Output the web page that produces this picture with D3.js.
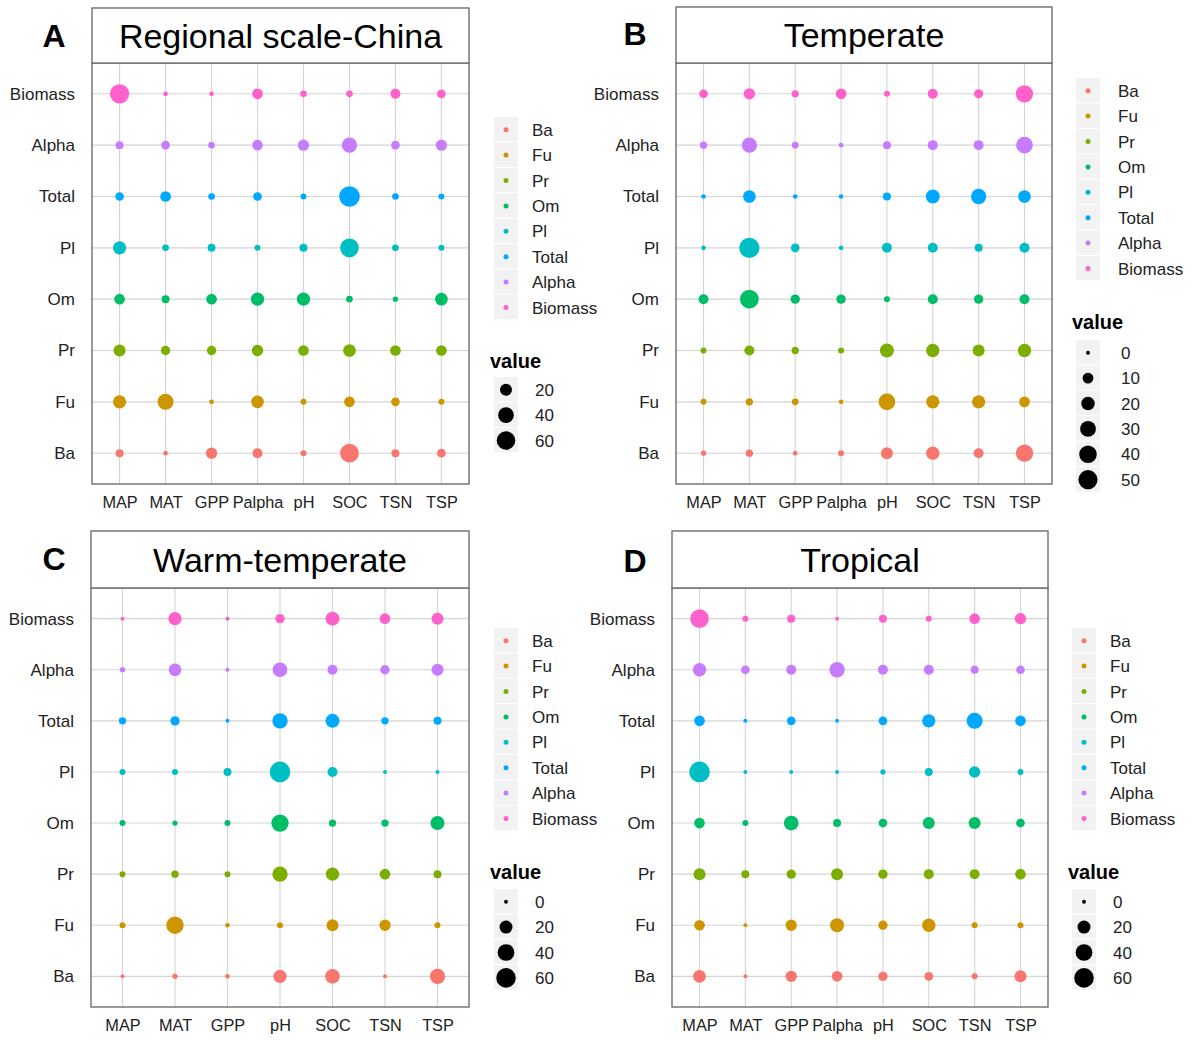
<!DOCTYPE html>
<html>
<head>
<meta charset="utf-8">
<script src="https://cdn.jsdelivr.net/npm/d3@7"></script>
<style>
  body { margin: 0; background: #fff; }
  text { font-family: "Liberation Sans", Arial, sans-serif; }
</style>
</head>
<body>
<div id="chart"></div>
<script>
// rows top -> bottom, legend order is the reverse
const rows = ['Biomass', 'Alpha', 'Total', 'Pl', 'Om', 'Pr', 'Fu', 'Ba']
const legendOrder = ['Ba', 'Fu', 'Pr', 'Om', 'Pl', 'Total', 'Alpha', 'Biomass']
const hue = ['#F8766D', '#CD9600', '#7CAE00', '#00BE67', '#00BFC4', '#00A9FF', '#C77CFF', '#FF61CC']

const cols8 = ['MAP', 'MAT', 'GPP', 'Palpha', 'pH', 'SOC', 'TSN', 'TSP']
const cols7 = ['MAP', 'MAT', 'GPP', 'pH', 'SOC', 'TSN', 'TSP']

// values, one array per row (Biomass ... Ba)
const valuesA = [
  [66, 0.7, 0.7, 14.5, 3.3, 3.3, 12, 8],
  [6, 8, 3.3, 14.5, 17, 38, 8, 17],
  [8, 14.5, 3.3, 8, 2.2, 77, 3.3, 2.2],
  [26, 3.3, 6, 2.2, 6, 61, 3.3, 2.2],
  [14.5, 6, 14.5, 26, 26, 3.3, 1.3, 23],
  [20, 10, 10, 17, 14.5, 23, 14.5, 14.5],
  [26, 42, 0.7, 23, 2.2, 14.5, 8, 2.2],
  [6, 0.7, 17, 12, 2.2, 61, 6, 8]
]
const valuesB = [
  [4.7, 11.7, 2.4, 9.7, 0.9, 7.8, 6.2, 38.7],
  [2.4, 27.9, 1.6, 0.1, 3.5, 7.8, 7.8, 34.9],
  [0.1, 16.4, 0.1, 0.1, 3.5, 21.8, 27.9, 16.4],
  [0.1, 58, 4.7, 0.1, 7.8, 7.8, 3.5, 7.8],
  [7.8, 46.9, 6.2, 6.2, 0.9, 7.8, 6.2, 7.8],
  [0.9, 7.8, 2.4, 0.9, 21.8, 18.9, 13.9, 18.9],
  [0.9, 2.4, 1.6, 0.1, 34.9, 18.9, 18.9, 9.7],
  [0.4, 2.4, 0.1, 0.9, 13.9, 18.9, 7.8, 38.7]
]
const valuesC = [
  [0, 21.6, 0, 7.1, 24.8, 11, 15.9],
  [0.4, 18.6, 0, 28.2, 8.9, 7.1, 15.9],
  [2.7, 7.1, 0, 31.8, 24.8, 2.7, 4],
  [1, 1, 4, 68.9, 8.9, 0, 0],
  [1, 0.4, 1, 44.1, 2.7, 2.7, 24.8],
  [1, 2.7, 1, 31.8, 21.6, 11, 4],
  [1, 44.1, 0.1, 1, 15.9, 13.3, 1],
  [0, 0.4, 0.1, 21.6, 28.2, 0, 31.8]
]
const valuesD = [
  [53.4, 1, 4, 0, 4, 1, 11, 13.3],
  [21.6, 5.4, 8.9, 31.8, 8.9, 8.9, 4, 5.4],
  [11, 0, 5.4, 0, 5.4, 21.6, 35.7, 11],
  [68.9, 0, 0, 0, 0.4, 4, 13.3, 1],
  [11, 1, 28.2, 4, 5.4, 15.9, 15.9, 5.4],
  [15.9, 4, 7.1, 15.9, 7.1, 8.9, 8.9, 11],
  [11, 0, 13.3, 24.8, 7.1, 21.6, 1, 1],
  [18.6, 0, 13.3, 11, 7.1, 5.4, 1, 15.9]
]

const breaksA = [20, 40, 60]
const breaksB = [0, 10, 20, 30, 40, 50]
const breaksC = [0, 20, 40, 60]
const breaksD = [0, 20, 40, 60]

const W = 1192, H = 1040
const svg = d3.select('#chart').append('svg').attr('width', W).attr('height', H)
svg.append('rect').attr('width', W).attr('height', H).attr('fill', '#fff')

const color = d3.scaleOrdinal().domain(legendOrder).range(hue)
const ink = '#222'
const frame = '#6e6e6e'
const fs = 17

const panels = [
  { tag: 'A', title: 'Regional scale-China', cols: cols8, values: valuesA, breaks: breaksA,
    left: 92, right: 469, stripTop: 8, plotTop: 63, plotBottom: 484, tagX: 54, tagY: 35,
    size: [[0, 80], [1.5, 10.5]], legX: 494, legLabX: 532, keyTop: 117, valY: 361, sizeTop: 377 },
  { tag: 'B', title: 'Temperate', cols: cols8, values: valuesB, breaks: breaksB,
    left: 676, right: 1052, stripTop: 7, plotTop: 63, plotBottom: 484, tagX: 635, tagY: 33,
    size: [[0, 60], [2, 10.3]], legX: 1076, legLabX: 1118, keyTop: 78, valY: 322, sizeTop: 340 },
  { tag: 'C', title: 'Warm-temperate', cols: cols7, values: valuesC, breaks: breaksC,
    left: 91, right: 469, stripTop: 531, plotTop: 588, plotBottom: 1007, tagX: 54, tagY: 558,
    size: [[0, 70], [2, 10.4]], legX: 494, legLabX: 532, keyTop: 628, valY: 872, sizeTop: 889 },
  { tag: 'D', title: 'Tropical', cols: cols8, values: valuesD, breaks: breaksD,
    left: 672, right: 1048, stripTop: 531, plotTop: 588, plotBottom: 1007, tagX: 635, tagY: 560,
    size: [[0, 70], [2, 10.4]], legX: 1072, legLabX: 1110, keyTop: 628, valY: 872, sizeTop: 889 }
]

panels.forEach(drawPanel)

function drawPanel (p) {
  let g = svg.append('g')
  let x = d3.scalePoint().domain(p.cols).range([p.left, p.right]).padding(0.6)
  let y = d3.scalePoint().domain(rows).range([p.plotTop, p.plotBottom]).padding(0.6)
  let r = d3.scaleSqrt().domain(p.size[0]).range(p.size[1])

  // grid
  g.selectAll('line.vx').data(p.cols).enter().append('line')
    .attr('x1', d => x(d)).attr('x2', d => x(d))
    .attr('y1', p.plotTop).attr('y2', p.plotBottom)
    .attr('stroke', '#d4d4d4').attr('stroke-width', 1.1)
  g.selectAll('line.hy').data(rows).enter().append('line')
    .attr('y1', d => y(d)).attr('y2', d => y(d))
    .attr('x1', p.left).attr('x2', p.right)
    .attr('stroke', '#d4d4d4').attr('stroke-width', 1.1)

  // dots
  let cells = []
  p.values.forEach((row, i) => row.forEach((v, j) => cells.push({ row: rows[i], col: p.cols[j], v })))
  g.selectAll('circle.dot').data(cells).enter().append('circle')
    .attr('cx', d => x(d.col)).attr('cy', d => y(d.row))
    .attr('r', d => r(d.v)).attr('fill', d => color(d.row))

  // frame + strip
  g.append('rect').attr('x', p.left).attr('y', p.plotTop)
    .attr('width', p.right - p.left).attr('height', p.plotBottom - p.plotTop)
    .attr('fill', 'none').attr('stroke', frame).attr('stroke-width', 1.4)
  g.append('rect').attr('x', p.left).attr('y', p.stripTop)
    .attr('width', p.right - p.left).attr('height', p.plotTop - p.stripTop)
    .attr('fill', '#fff').attr('stroke', frame).attr('stroke-width', 1.4)
  g.append('text').text(p.title)
    .attr('x', (p.left + p.right) / 2).attr('y', (p.stripTop + p.plotTop) / 2 + 12)
    .attr('text-anchor', 'middle').attr('font-size', 34).attr('fill', '#000')
  g.append('text').text(p.tag)
    .attr('x', p.tagX).attr('y', p.tagY + 11.5)
    .attr('text-anchor', 'middle').attr('font-size', 32).attr('font-weight', 'bold').attr('fill', '#000')

  // axes
  let ax = g.append('g').attr('transform', `translate(0,${p.plotBottom})`)
    .call(d3.axisBottom(x).tickSize(0).tickPadding(12))
  let ay = g.append('g').attr('transform', `translate(${p.left},0)`)
    .call(d3.axisLeft(y).tickSize(0).tickPadding(17))
  ;[ax, ay].forEach(a => {
    a.select('.domain').remove()
    a.selectAll('text').attr('font-size', a === ax ? 16.3 : fs).attr('fill', ink)
      .style('font-family', '"Liberation Sans", Arial, sans-serif')
  })

  // colour legend
  let step = 25.4
  let lg = g.append('g')
  lg.selectAll('rect').data(legendOrder).enter().append('rect')
    .attr('x', p.legX).attr('y', (d, i) => p.keyTop + i * step)
    .attr('width', 24).attr('height', step - 1).attr('fill', '#f2f2f2')
  lg.selectAll('circle').data(legendOrder).enter().append('circle')
    .attr('cx', p.legX + 12).attr('cy', (d, i) => p.keyTop + i * step + step / 2)
    .attr('r', 2.5).attr('fill', d => color(d))
  lg.selectAll('text').data(legendOrder).enter().append('text').text(d => d)
    .attr('x', p.legLabX).attr('y', (d, i) => p.keyTop + i * step + step / 2 + 6)
    .attr('font-size', fs).attr('fill', ink)

  // size legend
  let sg = g.append('g')
  sg.append('text').text('value').attr('x', p.legX - 4).attr('y', p.valY + 7)
    .attr('font-size', 20).attr('font-weight', 'bold').attr('fill', '#000')
  sg.selectAll('rect').data(p.breaks).enter().append('rect')
    .attr('x', p.legX).attr('y', (d, i) => p.sizeTop + i * step)
    .attr('width', 24).attr('height', step - 1).attr('fill', '#f2f2f2')
  sg.selectAll('circle').data(p.breaks).enter().append('circle')
    .attr('cx', p.legX + 12).attr('cy', (d, i) => p.sizeTop + i * step + step / 2)
    .attr('r', d => r(d)).attr('fill', '#000')
  sg.selectAll('text.lab').data(p.breaks).enter().append('text').text(d => d)
    .attr('x', p.legLabX + 3).attr('y', (d, i) => p.sizeTop + i * step + step / 2 + 6)
    .attr('font-size', fs).attr('fill', ink)
}
</script>
</body>
</html>
